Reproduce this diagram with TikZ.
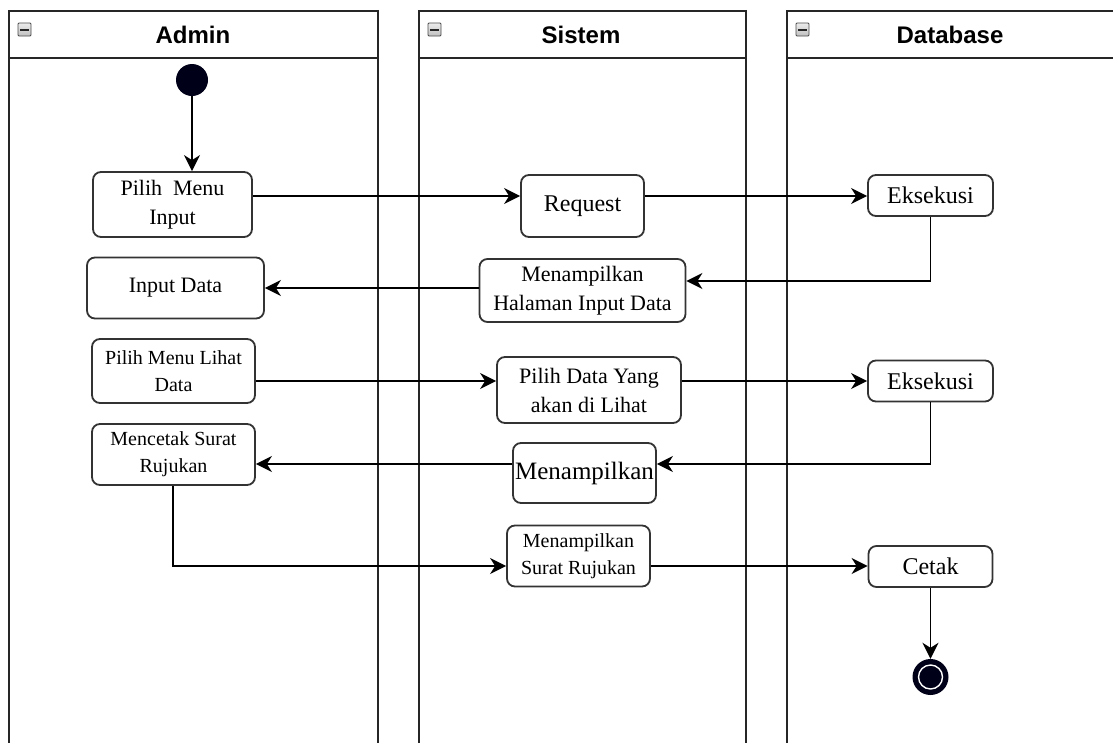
\documentclass[tikz,border=0pt]{standalone}
\usepackage{fontspec}
\setmainfont{Liberation Serif}
\newfontfamily\hdfont{Liberation Sans}
\usetikzlibrary{arrows.meta}
\tikzset{
  lane/.style={draw=black!85, line width=1.8pt},
  hdr/.style={font=\hdfont\bfseries\fontsize{24}{28}\selectfont, inner sep=0pt},
  icon/.style={draw=gray!60!black, line width=0.9pt, top color=gray!15, bottom color=gray!50, rounded corners=1pt},
  act/.style={draw=black!80, line width=1.8pt, rounded corners=8pt, fill=white, align=center, inner sep=0pt},
  fa/.style={font=\fontsize{22}{29}\selectfont},
  fb/.style={font=\fontsize{24}{29}\selectfont},
  fc/.style={font=\fontsize{20}{27}\selectfont},
  fd/.style={font=\fontsize{25}{29}\selectfont},
  flow/.style={draw=black, line width=1.8pt, -{Stealth[length=16pt,width=16pt,inset=5pt]}},
}
\begin{document}
\begin{tikzpicture}[x=1pt,y=-1pt]
\useasboundingbox (0,0) rectangle (1113,742);
\clip (0,0) rectangle (1113,742);
\fill[white] (0,0) rectangle (1113,742);
% lanes
\draw[lane] (9,11) rectangle (378,760);
\draw[lane] (9,58) -- (378,58);
\draw[lane] (419,11) rectangle (746,760);
\draw[lane] (419,58) -- (746,58);
\draw[lane] (787,11) rectangle (1130,760);
\draw[lane] (787,58) -- (1130,58);
\node[hdr] (hA) at (193,35) {Admin};
\node[hdr] (hS) at (581,35) {Sistem};
\node[hdr] (hD) at (950,35) {Database};
\foreach \l in {9,419,787}{
  \draw[icon] (\l+9,23) rectangle (\l+22,36);
  \draw[line width=2pt, black!85] (\l+11,29.5) -- (\l+20,29.5);
}
% start / end
\node[circle, fill=black!90!blue, minimum size=32pt, inner sep=0pt] (start) at (192,80) {};
\node[circle, fill=black!90!blue, minimum size=36pt, inner sep=0pt] (end) at (930.5,677) {};
\draw[white, line width=1.4pt] (end.center) circle (12pt);
% activities
\node[act, fa, minimum width=159pt, minimum height=65pt] (pmi) at (172.5,204.5) {Pilih~~Menu\\Input};
\node[act, fb, minimum width=123pt, minimum height=62pt] (req) at (582.5,206) {Request};
\node[act, fb, minimum width=125pt, minimum height=41pt] (eks1) at (930.5,195.5) {Eksekusi};
\node[act, fa, minimum width=206pt, minimum height=63pt] (mhid) at (582.5,290.5) {Menampilkan\\Halaman Input Data};
\node[act, fa, minimum width=177pt, minimum height=61pt] (ind) at (175.5,288) {Input Data};
\node[act, fc, minimum width=163pt, minimum height=64pt] (pmld) at (173.5,371) {Pilih Menu Lihat\\Data};
\node[act, fa, minimum width=184pt, minimum height=66pt] (pdya) at (589,390) {Pilih Data Yang\\akan di Lihat};
\node[act, fb, minimum width=125pt, minimum height=41pt] (eks2) at (930.5,381) {Eksekusi};
\node[act, fc, minimum width=163pt, minimum height=61pt] (msr) at (173.5,454.5) {Mencetak Surat\\Rujukan};
\node[act, fd, minimum width=143pt, minimum height=60pt] (mnp) at (584.5,473) {Menampilkan};
\node[act, fc, minimum width=143pt, minimum height=61pt] (mts) at (578.5,556) {Menampilkan\\Surat Rujukan};
\node[act, fb, minimum width=124pt, minimum height=41pt] (cetak) at (930.5,566.5) {Cetak};
% flows
\draw[flow] (start) -- (pmi.north -| start);
\draw[flow] (pmi.east |- 0,196) -- (req.west |- 0,196);
\draw[flow] (req.east |- 0,196) -- (eks1.west |- 0,196);
\draw[flow] (eks1.south) -- (eks1.south |- 0,281) -- (mhid.east |- 0,281);
\draw[flow] (mhid.west |- 0,288) -- (ind.east |- 0,288);
\draw[flow] (pmld.east |- 0,381) -- (pdya.west |- 0,381);
\draw[flow] (pdya.east |- 0,381) -- (eks2.west |- 0,381);
\draw[flow] (eks2.south) -- (eks2.south |- 0,464) -- (mnp.east |- 0,464);
\draw[flow] (mnp.west |- 0,464) -- (msr.east |- 0,464);
\draw[flow] (msr.south -| 173,0) -- (173,566) -- (mts.west |- 0,566);
\draw[flow] (mts.east |- 0,566) -- (cetak.west |- 0,566);
\draw[flow] (cetak.south -| end) -- (end.north);
\end{tikzpicture}
\end{document}
